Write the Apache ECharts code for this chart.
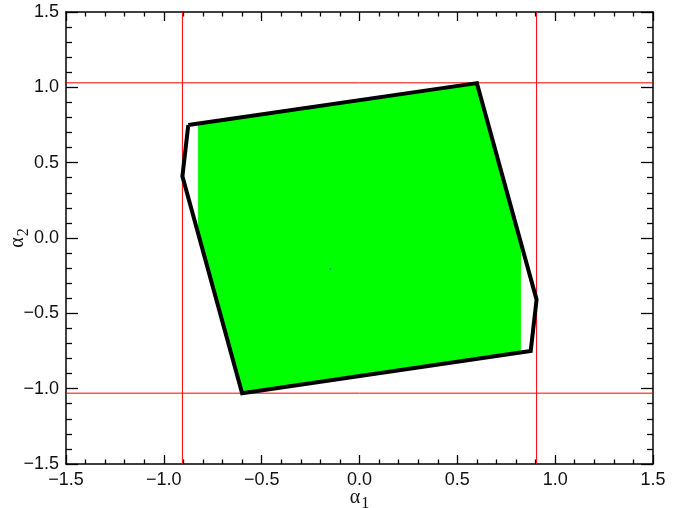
<!DOCTYPE html>
<html>
<head>
<meta charset="utf-8">
<script src="https://cdn.jsdelivr.net/npm/echarts@6/dist/echarts.min.js"></script>
<style>
  html, body { margin: 0; padding: 0; background: #fff; }
  #chart { width: 680px; height: 508px; }
</style>
</head>
<body>
<div id="chart"></div>
<script>
// Axis range and tick spacing
const axisMin = -1.5;
const axisMax = 1.5;
const tickStep = 0.5;

// Boundary of the region (closed outline), as (alpha1, alpha2) pairs
const boundaryA1 = [-0.875, 0.600, 0.905, 0.875, -0.600, -0.905, -0.875];
const boundaryA2 = [ 0.750, 1.028, -0.410, -0.750, -1.030, 0.410, 0.750];

// Filled (sampled) part of the region
const fillA1 = [-0.825, 0.600, 0.825, 0.825, -0.600, -0.825];
const fillA2 = [ 0.760, 1.028, -0.032, -0.760, -1.030, 0.032];

// Reference limits
const limitA1 = [-0.905, 0.905];
const limitA2 = [-1.030, 1.030];

// Single marked point
const markA1 = [-0.149];
const markA2 = [-0.205];

const fmt = v => v.toFixed(1).replace('-', '\u2212');
const labelFont = { fontFamily: 'Liberation Sans', fontSize: 18, color: '#111' };

function axisCommon(showLabel, tickLen, minorLen) {
  return {
    type: 'value', min: axisMin, max: axisMax, interval: tickStep,
    axisLine: { show: true, onZero: false, lineStyle: { color: '#000', width: 1.5 } },
    axisTick: { show: true, inside: true, length: tickLen, lineStyle: { color: '#000', width: 1.3 } },
    minorTick: { show: true, splitNumber: 5, length: minorLen, lineStyle: { color: '#000', width: 1.3 } },
    splitLine: { show: false },
    minorSplitLine: { show: false },
    axisLabel: Object.assign({ show: showLabel, formatter: fmt, margin: 7 }, labelFont)
  };
}

const nameRich = {
  a: { fontFamily: 'Liberation Serif', fontSize: 20, color: '#111' },
  s: { fontFamily: 'Liberation Serif', fontSize: 16, color: '#111', padding: [12, 0, 0, 1] }
};

const xBottom = Object.assign(axisCommon(true, 9, 4.5), {
  position: 'bottom', name: '{a|\u03b1}{s|1}', nameLocation: 'middle', nameGap: 20,
  nameMoveOverlap: false,
  nameTextStyle: { rich: nameRich }
});
const xTop = Object.assign(axisCommon(false, 9, 4.5), { position: 'top' });
const yLeft = Object.assign(axisCommon(true, 12, 6), {
  position: 'left', name: '{a|\u03b1}{s|2}', nameLocation: 'middle', nameGap: 34, nameRotate: 90,
  nameMoveOverlap: false,
  nameTextStyle: { rich: nameRich }
});
const yRight = Object.assign(axisCommon(false, 12, 6), { position: 'right' });

const series = [];

// Green filled region
series.push({
  type: 'custom',
  xAxisIndex: 0, yAxisIndex: 0,
  data: [0],
  silent: true,
  z: 1,
  renderItem: function (params, api) {
    const pts = fillA1.map((x, i) => api.coord([x, fillA2[i]]));
    return { type: 'polygon', shape: { points: pts }, style: { fill: '#00ff00', stroke: null } };
  }
});

// Red reference lines
limitA1.forEach(x => series.push({
  type: 'line', xAxisIndex: 0, yAxisIndex: 0, symbol: 'none', silent: true, z: 2,
  data: [[x, axisMin], [x, axisMax]], lineStyle: { color: '#ff0000', width: 1 }
}));
limitA2.forEach(y => series.push({
  type: 'line', xAxisIndex: 0, yAxisIndex: 0, symbol: 'none', silent: true, z: 2,
  data: [[axisMin, y], [axisMax, y]], lineStyle: { color: '#ff0000', width: 1 }
}));

// Black boundary outline
series.push({
  type: 'line', xAxisIndex: 0, yAxisIndex: 0, symbol: 'none', silent: true, z: 3,
  data: boundaryA1.map((x, i) => [x, boundaryA2[i]]),
  lineStyle: { color: '#000', width: 4, join: 'miter' }
});

// Marked point
series.push({
  type: 'scatter', xAxisIndex: 0, yAxisIndex: 0, silent: true, z: 4,
  symbolSize: 2, data: markA1.map((x, i) => [x, markA2[i]]),
  itemStyle: { color: '#1f6fd0' }
});

const chart = echarts.init(document.getElementById('chart'), null, { renderer: 'canvas' });
chart.setOption({
  animation: false,
  backgroundColor: '#fff',
  grid: { left: 66, right: 27, top: 12, bottom: 44, containLabel: false, outerBoundsMode: 'none' },
  xAxis: [xBottom, xTop],
  yAxis: [yLeft, yRight],
  series: series
});
</script>
</body>
</html>
